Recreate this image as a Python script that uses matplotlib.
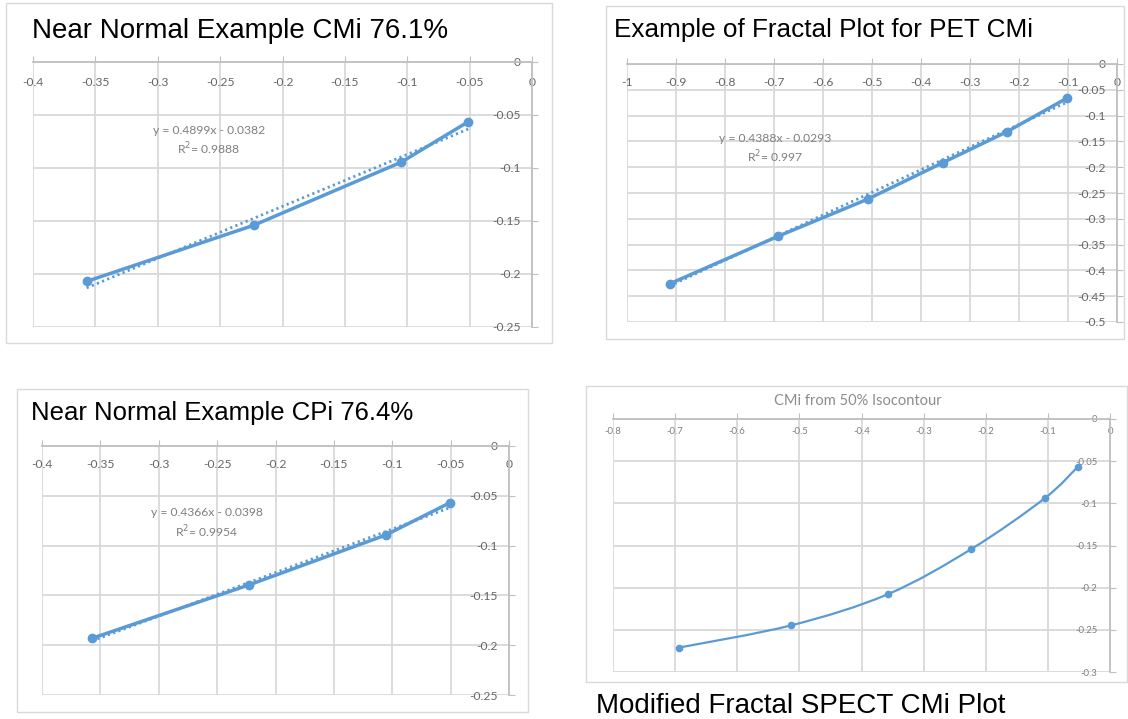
import matplotlib
matplotlib.use("Agg")
import matplotlib.pyplot as plt
import numpy as np
from matplotlib.patches import Rectangle, PathPatch
from matplotlib.path import Path
from matplotlib.ticker import MultipleLocator, FuncFormatter

plt.rcParams["axes.unicode_minus"] = False
plt.rcParams["font.family"] = ["Lato", "DejaVu Sans"]

# ---------------------------------------------------------------------------
# Data
# ---------------------------------------------------------------------------
cmi_x = [-0.357, -0.223, -0.105, -0.051]
cmi_y = [-0.207, -0.154, -0.0946, -0.0563]
cmi_fit = (0.4899, -0.0382)
cmi_eq = ["y = 0.4899x - 0.0382", "R$^2$= 0.9888"]

pet_x = [-0.913, -0.692, -0.509, -0.355, -0.224, -0.103]
pet_y = [-0.426, -0.334, -0.262, -0.191, -0.131, -0.0666]
pet_fit = (0.4388, -0.0293)
pet_eq = ["y = 0.4388x - 0.0293", "R$^2$= 0.997"]

cpi_x = [-0.357, -0.223, -0.1056, -0.0505]
cpi_y = [-0.193, -0.1396, -0.0894, -0.0569]
cpi_fit = (0.4366, -0.0398)
cpi_eq = ["y = 0.4366x - 0.0398", "R$^2$= 0.9954"]

spect_x = [-0.6935, -0.5127, -0.3577, -0.2237, -0.1054, -0.0518]
spect_y = [-0.271, -0.2446, -0.2078, -0.1544, -0.0942, -0.0566]

BLUE = "#5b9bd5"
GRID = "#d9d9d9"
AXIS = "#bfbfbf"
LABEL = "#666666"

W, H = 1128, 719
fig = plt.figure(figsize=(W / 100, H / 100), dpi=100)


def px_rect(x0, y0, x1, y1):
    return [x0 / W, 1 - y1 / H, (x1 - x0) / W, (y1 - y0) / H]


def frame(x0, y0, x1, y1):
    fig.patches.append(Rectangle((x0 / W, 1 - y1 / H), (x1 - x0) / W, (y1 - y0) / H,
                                 transform=fig.transFigure, fill=False,
                                 edgecolor=GRID, linewidth=1.0))


def fmt(v, _pos):
    s = f"{round(v, 4):g}"
    return "0" if s in ("-0", "0") else s


def make_axes(rect, xlim, ylim, xstep, ystep, fsize, xpad, ypad, lcolor=LABEL):
    ax = fig.add_axes(rect)
    ax.set_xlim(*xlim)
    ax.set_ylim(*ylim)
    ax.xaxis.set_major_locator(MultipleLocator(xstep))
    ax.yaxis.set_major_locator(MultipleLocator(ystep))
    ax.xaxis.set_major_formatter(FuncFormatter(fmt))
    ax.yaxis.set_major_formatter(FuncFormatter(fmt))
    ax.grid(True, color=GRID, linewidth=1.3, zorder=0)
    ax.set_axisbelow(True)
    # axes cross at the origin, which sits in the top-right corner
    ax.spines["bottom"].set_position(("data", 0))
    ax.spines["left"].set_position(("data", 0))
    for side in ("bottom", "left"):
        ax.spines[side].set_color(AXIS)
        ax.spines[side].set_linewidth(1.3)
    for side in ("top", "right"):
        ax.spines[side].set_visible(False)
    ax.tick_params(axis="x", direction="in", length=4, color=AXIS, pad=xpad,
                   labelsize=fsize, labelcolor=lcolor)
    ax.tick_params(axis="y", direction="in", length=4, color=AXIS, pad=ypad,
                   labelsize=fsize, labelcolor=lcolor)
    ax.patch.set_alpha(0)
    return ax


def fit_panel(ax, xs, ys, fit, eq, eq_xy):
    ax.plot(xs, ys, color=BLUE, linewidth=2.5, marker="o", markersize=6,
            zorder=3, clip_on=False)
    xr = np.array([min(xs), max(xs)])
    ax.plot(xr, fit[0] * xr + fit[1], color=BLUE, linewidth=2.0,
            linestyle=(0, (0.8, 1.2)), zorder=2, clip_on=False)
    ex, ey = eq_xy
    fig.text(ex / W, 1 - ey / H, eq[0], ha="center", va="center",
             fontsize=8.7, color="#7f7f7f")
    fig.text(ex / W, 1 - (ey + 19) / H, eq[1], ha="center", va="center",
             fontsize=8.7, color="#7f7f7f")


# ---------------------------------------------------------------------------
# Panel 1: Near Normal Example CMi
# ---------------------------------------------------------------------------
frame(6, 3, 552, 343)
fig.text(32 / W, 1 - 38.5 / H, "Near Normal Example CMi 76.1%",
         family="Liberation Sans", fontsize=20, va="baseline", color="black")
ax1 = make_axes(px_rect(33, 62, 532, 327), (-0.4, 0), (-0.25, 0), 0.05, 0.05,
                8.7, 10.5, 8)
fit_panel(ax1, cmi_x, cmi_y, cmi_fit, cmi_eq, (209, 130))

# ---------------------------------------------------------------------------
# Panel 2: PET CMi
# ---------------------------------------------------------------------------
frame(606, 6, 1124, 339)
fig.text(614 / W, 1 - 37 / H, "Example of Fractal Plot for PET CMi",
         family="Liberation Sans", fontsize=18.8, va="baseline", color="black")
ax2 = make_axes(px_rect(627, 64, 1117, 322), (-1, 0), (-0.5, 0), 0.1, 0.05,
                8.7, 9.4, 8)
fit_panel(ax2, pet_x, pet_y, pet_fit, pet_eq, (775, 138))

# ---------------------------------------------------------------------------
# Panel 3: Near Normal Example CPi
# ---------------------------------------------------------------------------
frame(17, 389, 528, 712)
fig.text(31 / W, 1 - 420 / H, "Near Normal Example CPi 76.4%",
         family="Liberation Sans", fontsize=18.5, va="baseline", color="black")
ax3 = make_axes(px_rect(42, 446, 509, 695), (-0.4, 0), (-0.25, 0), 0.05, 0.05,
                8.7, 9.4, 8)
fit_panel(ax3, cpi_x, cpi_y, cpi_fit, cpi_eq, (207, 513))

# ---------------------------------------------------------------------------
# Panel 4: smoothed SPECT curve
# ---------------------------------------------------------------------------
frame(586, 386, 1127, 682)
fig.text(858 / W, 1 - 401 / H, "CMi from 50% Isocontour", ha="center",
         va="center", fontsize=10.5, color="#8c8c8c")
ax4 = make_axes(px_rect(613, 419, 1110, 672), (-0.8, 0), (-0.3, 0), 0.1, 0.05,
                6.8, 5.5, 9, lcolor="#7f7f7f")

# Excel-style smoothed line: cubic Bezier segments through the data points
pts = np.column_stack([spect_x, spect_y])
ext = np.vstack([pts[0], pts, pts[-1]])
verts = [tuple(pts[0])]
codes = [Path.MOVETO]
for i in range(len(pts) - 1):
    c1 = ext[i + 1] + (ext[i + 2] - ext[i]) / 6
    c2 = ext[i + 2] - (ext[i + 3] - ext[i + 1]) / 6
    verts += [tuple(c1), tuple(c2), tuple(pts[i + 1])]
    codes += [Path.CURVE4] * 3
ax4.add_patch(PathPatch(Path(verts, codes), facecolor="none", edgecolor=BLUE,
                        linewidth=1.6, zorder=3))
ax4.plot(spect_x, spect_y, linestyle="none", marker="o", markersize=4.5,
         color=BLUE, zorder=4)

fig.text(596 / W, 1 - 713 / H, "Modified Fractal SPECT CMi Plot",
         family="Liberation Sans", fontsize=20, va="baseline", color="black")

fig.savefig("out.png", dpi=100)
